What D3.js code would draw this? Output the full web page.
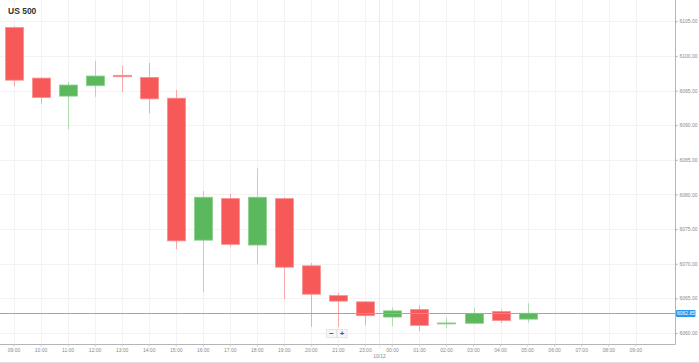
<!DOCTYPE html>
<html>
<head>
<meta charset="utf-8">
<script src="https://cdn.jsdelivr.net/npm/d3@7"></script>
<style>
    html, body { margin: 0; padding: 0; background: #fff; }
    svg { display: block; font-family: "Liberation Sans", Arial, sans-serif; }
</style>
</head>
<body>
<div id="chart"></div>
<script>
"use strict";

const WIDTH = 699;
const HEIGHT = 363;
const AXIS_X = 675.5;
const AXIS_Y = 344.5;

// hourly slots, 22:00 is missing (market break), last four are empty future slots
const hours = ["09:00", "10:00", "11:00", "12:00", "13:00", "14:00", "15:00", "16:00",
    "17:00", "18:00", "19:00", "20:00", "21:00", "23:00", "00:00", "01:00", "02:00",
    "03:00", "04:00", "05:00", "06:00", "07:00", "08:00", "09:00"];

const open = [6104.1, 6096.8, 6094.2, 6095.7, 6097.2, 6096.9, 6093.9, 6073.4, 6079.4, 6072.7,
    6079.4, 6069.7, 6065.4, 6064.5, 6062.3, 6063.4, 6061.35, 6061.4, 6063.1, 6062.0];
const high = [6104.3, 6096.9, 6096.3, 6099.3, 6098.6, 6099.0, 6095.1, 6080.5, 6080.1, 6083.8,
    6079.6, 6070.1, 6065.8, 6064.6, 6063.7, 6064.0, 6062.2, 6063.6, 6063.4, 6064.3];
const low = [6095.6, 6093.1, 6089.4, 6094.1, 6094.8, 6091.7, 6072.1, 6065.9, 6072.4, 6069.9,
    6064.9, 6060.9, 6060.9, 6061.1, 6061.0, 6060.3, 6060.7, 6061.4, 6061.4, 6061.5];
const close = [6096.5, 6094.0, 6095.8, 6097.1, 6097.0, 6093.8, 6073.3, 6079.6, 6072.8, 6079.6,
    6069.5, 6065.6, 6064.6, 6062.5, 6063.2, 6061.1, 6061.45, 6062.8, 6061.8, 6062.85];

const priceTicks = [6060, 6065, 6070, 6075, 6080, 6085, 6090, 6095, 6100, 6105];
const currentPrice = 6062.85;
const dayLabel = "10/12";
const title = "US 500";

const RED = "#f75858";
const RED_EDGE = "#fb9090";
const RED_WICK = "#f9a9a9";
const GREEN = "#5cb85c";
const GREEN_EDGE = "#8ccf8c";
const GREEN_WICK = "#aedcae";

const svg = d3.select("#chart")
    .append("svg")
    .attr("width", WIDTH)
    .attr("height", HEIGHT);

const x = d3.scaleBand()
    .domain(d3.range(hours.length))
    .range([0.5, 0.5 + 27.03 * hours.length]);

const y = d3.scaleLinear()
    .domain([6060, 6105])
    .range([333, 21.3]);

const cx = i => Math.round(x(i) + x.bandwidth() / 2) + 0.5;

// Grid
svg.append("g")
    .selectAll("line")
    .data(hours.map((_, i) => i))
    .join("line")
    .attr("x1", cx).attr("x2", cx)
    .attr("y1", 0).attr("y2", AXIS_Y)
    .attr("stroke", "#f3f3f3");

svg.append("g")
    .selectAll("line")
    .data(priceTicks)
    .join("line")
    .attr("x1", 0).attr("x2", AXIS_X)
    .attr("y1", d => Math.round(y(d)) + 0.5)
    .attr("y2", d => Math.round(y(d)) + 0.5)
    .attr("stroke", "#f3f3f3");

// Day separator between 23:00 and 00:00
const sepX = Math.round((cx(13) + cx(14)) / 2) + 0.5;
svg.append("line")
    .attr("x1", sepX).attr("x2", sepX)
    .attr("y1", 0).attr("y2", AXIS_Y + 4)
    .attr("stroke", "#ebebeb");

// Candles
const candles = svg.append("g")
    .selectAll("g")
    .data(open.map((o, i) => ({ i, o, h: high[i], l: low[i], c: close[i] })))
    .join("g");

candles.append("line")
    .attr("x1", d => cx(d.i)).attr("x2", d => cx(d.i))
    .attr("y1", d => y(d.h)).attr("y2", d => y(d.l))
    .attr("stroke", d => (d.c >= d.o ? GREEN_WICK : RED_WICK));

const BODY = 18;
candles.append("rect")
    .attr("x", d => cx(d.i) - BODY / 2)
    .attr("width", BODY)
    .attr("y", d => y(Math.max(d.o, d.c)))
    .attr("height", d => Math.max(1, y(Math.min(d.o, d.c)) - y(Math.max(d.o, d.c))))
    .attr("fill", d => (d.c >= d.o ? GREEN : RED))
    .attr("stroke", d => (d.c >= d.o ? GREEN_EDGE : RED_EDGE))
    .attr("stroke-width", 0.8);

// Current price line
const priceY = Math.round(y(currentPrice)) + 0.5;
svg.append("line")
    .attr("x1", 0).attr("x2", AXIS_X)
    .attr("y1", priceY).attr("y2", priceY)
    .attr("stroke", "#6cb4ec");

// Axes frame
svg.append("line")
    .attr("x1", AXIS_X).attr("x2", AXIS_X)
    .attr("y1", 0).attr("y2", AXIS_Y)
    .attr("stroke", "#b5b5b5");
svg.append("line")
    .attr("x1", 0).attr("x2", AXIS_X)
    .attr("y1", AXIS_Y).attr("y2", AXIS_Y)
    .attr("stroke", "#b5b5b5");

// Right price axis
const yAxis = svg.append("g")
    .attr("transform", `translate(${AXIS_X},0)`)
    .call(d3.axisRight(y).tickValues(priceTicks).tickSize(2).tickPadding(2)
        .tickFormat(d3.format(".2f")));
yAxis.select(".domain").remove();
yAxis.selectAll("line").attr("stroke", "#aaa");
yAxis.selectAll("text").attr("fill", "#8a8a8a").attr("font-size", 5);

// Bottom time axis
const xAxis = svg.append("g")
    .attr("transform", `translate(0,${AXIS_Y})`)
    .call(d3.axisBottom(x).tickSize(2).tickPadding(2).tickFormat(i => hours[i]));
xAxis.select(".domain").remove();
xAxis.selectAll("line").attr("stroke", "#ccc");
xAxis.selectAll("text").attr("fill", "#8a8a8a").attr("font-size", 5);

svg.append("text")
    .attr("x", sepX)
    .attr("y", 358)
    .attr("text-anchor", "middle")
    .attr("fill", "#8a8a8a")
    .attr("font-size", 5)
    .text(dayLabel);

// Current price tag
const tag = svg.append("g").attr("transform", `translate(${AXIS_X + 0.5},${priceY})`);
tag.append("rect")
    .attr("x", 0).attr("y", -3.5)
    .attr("width", 19.5).attr("height", 7)
    .attr("rx", 1)
    .attr("fill", "#2a97ee");
tag.append("text")
    .attr("x", 10).attr("y", 1.8)
    .attr("text-anchor", "middle")
    .attr("fill", "#fff")
    .attr("font-size", 5)
    .text(d3.format(".2f")(currentPrice));

// Zoom buttons
const zoomButtons = svg.append("g").attr("transform", "translate(326.5,329.5)");
["\u2212", "+"].forEach((label, i) => {
    zoomButtons.append("rect")
        .attr("x", i * 10.5).attr("y", 0)
        .attr("width", 10).attr("height", 8)
        .attr("fill", "#f7f7f7")
        .attr("stroke", "#e4e4e4");
    zoomButtons.append("text")
        .attr("x", i * 10.5 + 5).attr("y", 6.3)
        .attr("text-anchor", "middle")
        .attr("font-size", 8)
        .attr("font-weight", "bold")
        .attr("fill", "#555")
        .text(label);
});

// Bottom border
svg.append("line")
    .attr("x1", 0).attr("x2", WIDTH)
    .attr("y1", 362.5).attr("y2", 362.5)
    .attr("stroke", "#e0e0e0");

// Title
svg.append("text")
    .attr("x", 8)
    .attr("y", 14.3)
    .attr("font-size", 8.5)
    .attr("font-weight", "bold")
    .attr("fill", "#333")
    .text(title);
</script>
</body>
</html>
